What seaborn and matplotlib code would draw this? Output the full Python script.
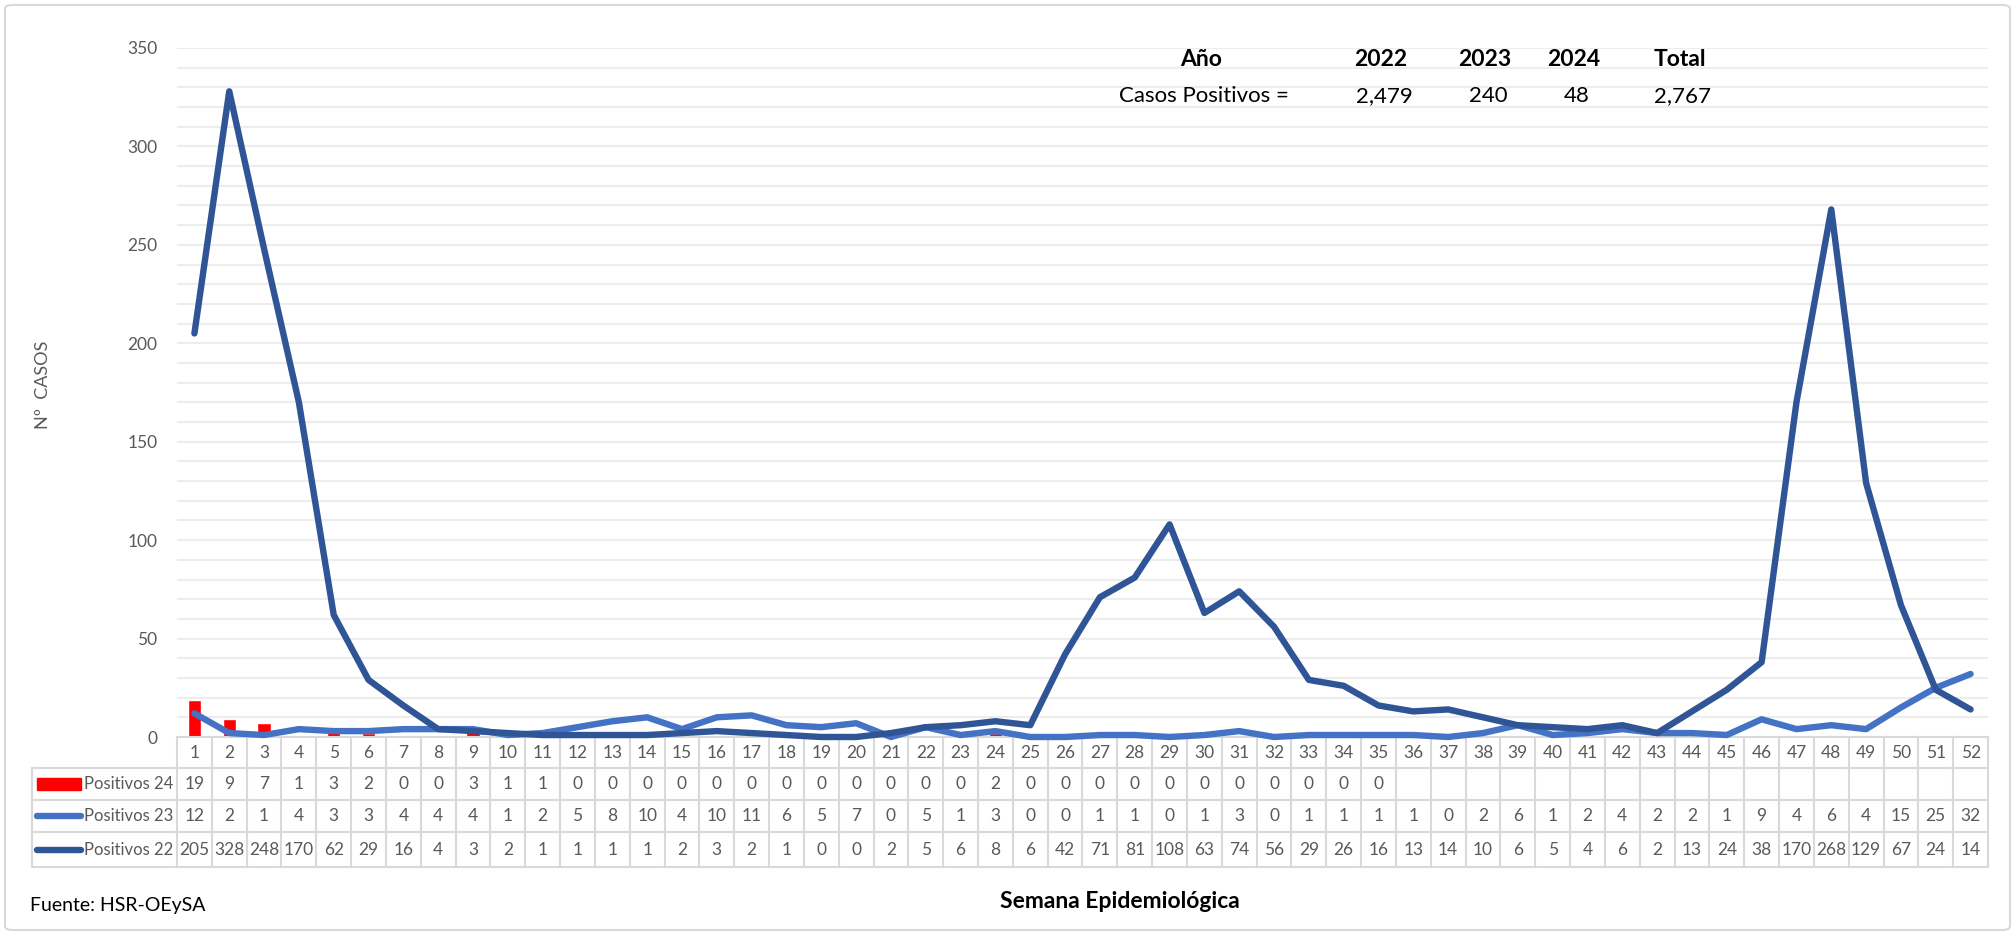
import numpy as np
import pandas as pd
import matplotlib
matplotlib.use("Agg")
import matplotlib.pyplot as plt
import matplotlib.transforms as mtransforms
from matplotlib.ticker import MultipleLocator
from matplotlib.patches import FancyBboxPatch, Rectangle
from matplotlib.lines import Line2D
import seaborn as sns

# Data (semana epidemiologica 1-52)
weeks = list(range(1, 53))
pos_24 = [19, 9, 7, 1, 3, 2, 0, 0, 3, 1, 1, 0, 0, 0, 0, 0, 0, 0, 0, 0, 0, 0, 0, 2,
          0, 0, 0, 0, 0, 0, 0, 0, 0, 0, 0] + [None] * 17
pos_23 = [12, 2, 1, 4, 3, 3, 4, 4, 4, 1, 2, 5, 8, 10, 4, 10, 11, 6, 5, 7, 0, 5, 1, 3,
          0, 0, 1, 1, 0, 1, 3, 0, 1, 1, 1, 1, 0, 2, 6, 1, 2, 4, 2, 2, 1, 9, 4, 6, 4, 15, 25, 32]
pos_22 = [205, 328, 248, 170, 62, 29, 16, 4, 3, 2, 1, 1, 1, 1, 2, 3, 2, 1, 0, 0, 2, 5, 6, 8,
          6, 42, 71, 81, 108, 63, 74, 56, 29, 26, 16, 13, 14, 10, 6, 5, 4, 6, 2, 13, 24, 38,
          170, 268, 129, 67, 24, 14]
series_names = ["Positivos 24", "Positivos 23", "Positivos 22"]
summary_years = ["2022", "2023", "2024", "Total"]

RED = "#FF0000"
LIGHT_BLUE = "#4472C4"
DARK_BLUE = "#2F5597"
GRID = "#D9D9D9"
TXT = "#595959"

df = pd.DataFrame({"Semana": weeks, "Positivos 24": pos_24,
                   "Positivos 23": pos_23, "Positivos 22": pos_22})

sns.set_theme(style="white")
plt.rcParams["font.family"] = ["Lato", "DejaVu Sans"]

W, H = 2015, 933
fig = plt.figure(figsize=(W / 100, H / 100), dpi=100)
ax = fig.add_axes([177 / W, 1 - 737 / H, 1811 / W, 689 / H])

# bars + lines
sns.barplot(data=df.dropna(subset=["Positivos 24"]), x="Semana", y="Positivos 24",
            native_scale=True, width=0.38, color=RED, saturation=1,
            errorbar=None, ax=ax, zorder=2)
sns.lineplot(data=df, x="Semana", y="Positivos 23", color=LIGHT_BLUE, lw=4.6,
             solid_capstyle="round", solid_joinstyle="round", clip_on=False, ax=ax, zorder=3)
sns.lineplot(data=df, x="Semana", y="Positivos 22", color=DARK_BLUE, lw=4.6,
             solid_capstyle="round", solid_joinstyle="round", clip_on=False, ax=ax, zorder=4)

ax.set_xlim(0.5, 52.5)
ax.set_ylim(0, 350)
ax.set_xticks([])
ax.set_xlabel("")
ax.set_ylabel("")
ax.yaxis.set_major_locator(MultipleLocator(50))
ax.yaxis.set_minor_locator(MultipleLocator(10))
ax.grid(which="both", axis="y", color="#EDEDED", lw=1.5)
ax.set_axisbelow(True)
ax.tick_params(axis="y", which="both", length=0, pad=14, labelsize=12.5, labelcolor=TXT)
for s in ["top", "left", "right"]:
    ax.spines[s].set_visible(False)
ax.spines["bottom"].set_color(GRID)
ax.spines["bottom"].set_linewidth(1.5)

# data table under the axis
trans = mtransforms.blended_transform_factory(ax.transData, ax.transAxes)
px_per_week = 1811 / 52
label_left = 0.5 - 145 / px_per_week
row_edges = [0, -0.045, -0.0914, -0.1379, -0.1887]
row_mid = [(row_edges[i] + row_edges[i + 1]) / 2 for i in range(4)]

def tline(xs, ys):
    ax.add_line(Line2D(xs, ys, transform=trans, color=GRID, lw=1.5, clip_on=False))

for k in range(53):
    tline([k + 0.5, k + 0.5], [row_edges[0], row_edges[-1]])
tline([label_left, label_left], [row_edges[1], row_edges[-1]])
for y in row_edges[1:]:
    tline([label_left, 52.5], [y, y])

for w in weeks:
    ax.text(w, row_mid[0], str(w), transform=trans, ha="center", va="center",
            fontsize=12.5, color=TXT)
for r, name in enumerate(series_names, start=1):
    for w, v in zip(weeks, df[name]):
        if pd.notna(v):
            ax.text(w, row_mid[r], str(int(v)), transform=trans, ha="center",
                    va="center", fontsize=12.5, color=TXT)
    ax.text(label_left + 52 / px_per_week, row_mid[r], name, transform=trans,
            ha="left", va="center", fontsize=12, color=TXT)

# legend keys inside the table
kx0 = label_left + 5 / px_per_week
kx1 = label_left + 49 / px_per_week
ax.add_patch(Rectangle((kx0, row_mid[1] - 0.008), kx1 - kx0, 0.016, transform=trans,
                       color=RED, clip_on=False))
for r, c in [(2, LIGHT_BLUE), (3, DARK_BLUE)]:
    ax.add_line(Line2D([kx0, kx1], [row_mid[r], row_mid[r]], transform=trans, color=c,
                       lw=4.6, solid_capstyle="round", clip_on=False))

# summary box at the top
totals = [sum(pos_22), sum(pos_23), sum(v for v in pos_24 if v is not None)]
totals.append(sum(totals))
fig.text(1201 / W, 1 - 59 / H, "Año", ha="center", va="center", fontsize=16.5,
         fontweight="bold", color="black")
fig.text(1204 / W, 1 - 96 / H, "Casos Positivos =", ha="center", va="center",
         fontsize=16, color="black")
for xc, yr, tot in zip([1381, 1485, 1574, 1680], summary_years, totals):
    fig.text(xc / W, 1 - 59 / H, yr, ha="center", va="center", fontsize=16.5,
             fontweight="bold", color="black")
    fig.text((xc + 3) / W, 1 - 96 / H, f"{tot:,}", ha="center", va="center",
             fontsize=16, color="black")

fig.text(43 / W, 1 - 385 / H, "Nº  CASOS", rotation=90, ha="center", va="center",
         fontsize=13, color=TXT)
fig.text(1120 / W, 1 - 902 / H, "Semana Epidemiológica", ha="center", va="center",
         fontsize=16.5, fontweight="bold", color="black")
fig.text(30 / W, 1 - 906 / H, "Fuente: HSR-OEySA", ha="left", va="center",
         fontsize=14, color="black")

# chart border
fig.patches.append(FancyBboxPatch((5 / W, 3 / H), 2005 / W, 925 / H,
                                  boxstyle="round,pad=0,rounding_size=0.004",
                                  transform=fig.transFigure, fill=False,
                                  edgecolor=GRID, lw=1.5))

fig.savefig("out.png", dpi=100)
